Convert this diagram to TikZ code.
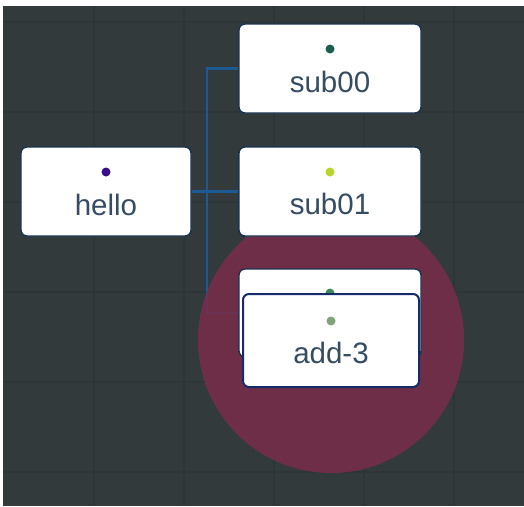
\documentclass[tikz,border=0pt]{standalone}
\usepackage{fontspec}
\setmainfont{Liberation Sans}
\definecolor{bgc}{HTML}{323A3B}
\definecolor{gridc}{HTML}{2E3536}
\definecolor{connc}{HTML}{1B5A92}
\definecolor{circc}{HTML}{792D4A}
\definecolor{textc}{HTML}{364C62}
\definecolor{borderc}{HTML}{1A3450}
\definecolor{dotA}{HTML}{1C5E50}
\definecolor{dotB}{HTML}{3A0F8C}
\definecolor{dotC}{HTML}{B6D62C}
\definecolor{dotD}{HTML}{3E8A5E}
\definecolor{dotE}{HTML}{82A27E}
\tikzset{
  box/.style={draw=borderc, line width=1.4pt, fill=white, rounded corners=6pt, inner sep=0pt},
  lbl/.style={text=textc, anchor=base, inner sep=0pt, font=\fontsize{29.5}{29.5}\selectfont},
  conn/.style={draw=connc, line width=2.6pt},
  gridline/.style={draw=gridc, line width=2pt}
}
\begin{document}
\begin{tikzpicture}[x=1pt,y=-1pt]
\useasboundingbox (0,0) rectangle (524,506);
\fill[white] (0,0) rectangle (524,506);
\fill[bgc] (3,6) rectangle (524,506);
\foreach \gx in {94,184,274,364,454} \draw[gridline] (\gx,6) -- (\gx,506);
\foreach \gy in {22,112,202,292,382,472} \draw[gridline] (3,\gy) -- (524,\gy);
% nodes (placed first so connectors can reach them)
\node[box, minimum width=170pt, minimum height=89pt] (hello) at (106,191.5) {};
\node[box, minimum width=182pt, minimum height=89pt] (sub00) at (330,68.5) {};
\node[box, minimum width=182pt, minimum height=89pt] (sub01) at (330,191.5) {};
\node[box, minimum width=182pt, minimum height=88pt] (hid) at (330,313) {};
% connectors
\coordinate (j) at (207,191.5);
\draw[conn] (hello.east) -- (sub01.west);
\draw[conn] (j) |- (sub00.west);
\draw[conn] (j) |- (hid.west);
% highlight circle
\fill[circc, opacity=0.87] (331,340) circle (133);
% boxes on top of circle
\node[box, minimum width=182pt, minimum height=89pt] at (sub01) {};
\node[box, minimum width=182pt, minimum height=88pt] at (hid) {};
\fill[dotD] (330,293) circle (4.5);
\node[box, draw=borderc!85!blue, line width=2pt, minimum width=176pt, minimum height=93pt] (add) at (331,340.5) {};
% dots
\fill[dotA] (330,49) circle (4.5);
\fill[dotB] (106,172) circle (4.5);
\fill[dotC] (330,172) circle (4.5);
\fill[dotE] (331,321) circle (4.5);
% labels
\node[lbl] (t1) at (330,92) {sub00};
\node[lbl] (t2) at (106,215) {hello};
\node[lbl] (t3) at (330,214) {sub01};
\node[lbl] (t4) at (331,363) {add-3};
\end{tikzpicture}
\end{document}
